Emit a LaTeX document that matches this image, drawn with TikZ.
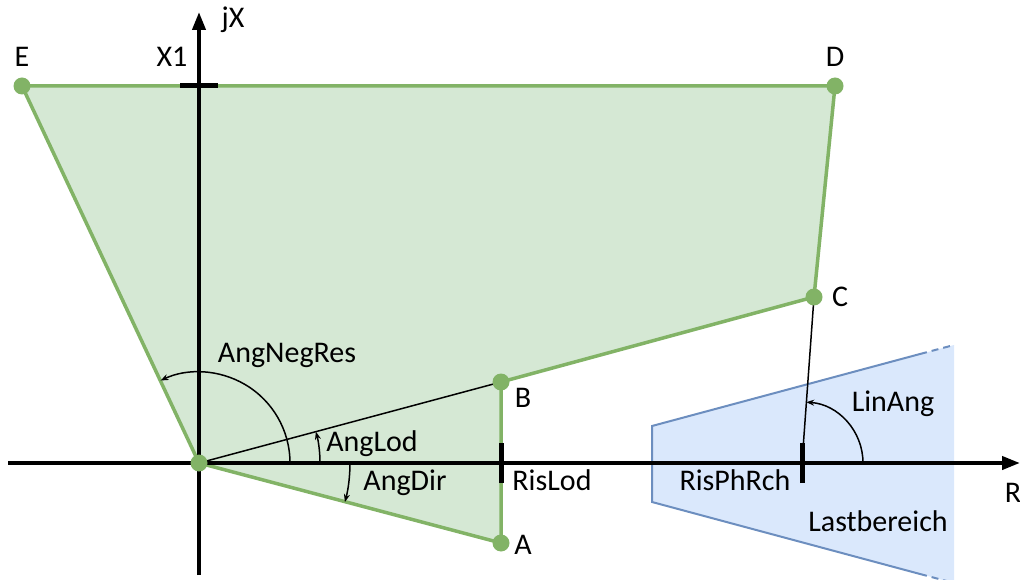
\documentclass[tikz,border=0pt]{standalone}
\usepackage{fontspec}
\setmainfont{Carlito}
\usetikzlibrary{arrows.meta,positioning}
\definecolor{zonegreen}{HTML}{D5E8D4}
\definecolor{linegreen}{HTML}{82B366}
\definecolor{zoneblue}{HTML}{DAE8FC}
\definecolor{lineblue}{HTML}{6C8EBF}
\tikzset{
    axis/.style={line width=4pt,-{Triangle[length=18pt,width=13pt]}},
    axtick/.style={line width=5pt},
    corner/.style={circle,fill=linegreen,inner sep=0pt,minimum size=17pt},
    lbl/.style={font=\fontsize{30}{34}\selectfont,inner sep=0pt,anchor=base},
    angarc/.style={line width=1.5pt,-{Stealth[length=8pt,width=6pt]}},
    thinline/.style={line width=1.5pt}
}
\begin{document}
\begin{tikzpicture}[x=1pt,y=1pt]
    \useasboundingbox (0,0) rectangle (1020,579);
    \coordinate (O) at (199,116);
    \coordinate (A) at (501,36);
    \coordinate (B) at (501,197);
    \coordinate (C) at (814,282);
    \coordinate (D) at (835,493);
    \coordinate (E) at (22,493);
    \coordinate (X1) at (199,493);
    \coordinate (RL) at (501,116);
    \coordinate (RP) at (802,116);
    \coordinate (Rmin) at (8,116);
    \coordinate (Rmax) at (1020,116);
    \coordinate (Xmin) at (199,4);
    \coordinate (Xmax) at (199,567);
    \fill[zoneblue] (652,153) -- (954,234) -- (954,-4) -- (652,77) -- cycle;
    \draw[lineblue,line width=2pt] (920,225) -- (652,153) -- (652,77) -- (920,5);
    \draw[lineblue,line width=2pt,dash pattern=on 7pt off 5pt] (920,225) -- (954,234);
    \draw[lineblue,line width=2pt,dash pattern=on 7pt off 5pt] (920,5) -- (954,-4);
    \filldraw[fill=zonegreen,draw=linegreen,line width=3.5pt,line join=round]
        (O) -- (A) -- (B) -- (C) -- (D) -- (E) -- cycle;
    \draw[axis] (Rmin) -- (Rmax);
    \draw[axis] (Xmin) -- (Xmax);
    \draw[axtick] ([xshift=-19pt]X1) -- ([xshift=19pt]X1);
    \draw[axtick] ([yshift=-20pt]RL) -- ([yshift=20pt]RL);
    \draw[axtick] ([yshift=-20pt]RP) -- ([yshift=20pt]RP);
    \draw[thinline] (O) -- (B);
    \draw[thinline] (RP) -- (C);
    \draw[angarc] ([xshift=91pt]O) arc[start angle=0,end angle=115,radius=91pt];
    \draw[angarc] ([xshift=121pt]O) arc[start angle=0,end angle=15,radius=121pt];
    \draw[angarc] ([xshift=151pt]O) arc[start angle=0,end angle=-15,radius=151pt];
    \draw[angarc] ([xshift=61pt]RP) arc[start angle=0,end angle=86,radius=61pt];
    \foreach \p in {O,A,B,C,D,E} \node[corner] at (\p) {};
    \node[lbl] (labJX) at (233,551) {jX};
    \node[lbl] (labR) at (1013,77) {R};
    \node[lbl] (labX1) at (172,512) {X1};
    \node[lbl] (labE) at (22,512) {E};
    \node[lbl] (labD) at (835,512) {D};
    \node[lbl] (labC) at (840,272) {C};
    \node[lbl] (labB) at (523,172) {B};
    \node[lbl] (labA) at (523,25) {A};
    \node[lbl] (labNeg) at (287,217) {AngNegRes};
    \node[lbl] (labLod) at (372,128) {AngLod};
    \node[lbl] (labDir) at (405,89) {AngDir};
    \node[lbl] (labRL) at (552,89) {RisLod};
    \node[lbl] (labRP) at (735,89) {RisPhRch};
    \node[lbl] (labLin) at (893,168) {LinAng};
    \node[lbl] (labLast) at (878,48) {Lastbereich};
\end{tikzpicture}
\end{document}
